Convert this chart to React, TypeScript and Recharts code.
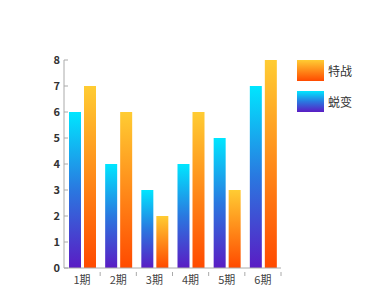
import { BarChart, Bar, XAxis, YAxis } from "recharts";

const periods = ["1期", "2期", "3期", "4期", "5期", "6期"];
const tuibian = [6, 4, 3, 4, 5, 7];
const tezhan = [7, 6, 2, 6, 3, 8];
const yTicks = [0, 1, 2, 3, 4, 5, 6, 7, 8];

const W = 389;
const H = 307;
const margin = { top: 60, right: 108, bottom: 19, left: 34 };
const yAxisWidth = 30;
const band = (W - margin.left - yAxisWidth - margin.right) / periods.length;
const font = "'Noto Sans CJK SC', 'Noto Sans', sans-serif";

const data = periods.map((name, i) => ({ name, tuibian: tuibian[i], tezhan: tezhan[i] }));

const legendItems = [
  { label: "特战", fill: "url(#gOrange)" },
  { label: "蜕变", fill: "url(#gBlue)" },
];

const YTick = ({ x, y, payload }: any) => (
  <g>
    <line x1={x + 4} x2={x + 8} y1={y} y2={y} stroke="#aaa" />
    <text x={x} y={y} dy={4} textAnchor="end" fontSize={11} fill="#333" fontWeight={600} fontFamily={font}>
      {payload.value}
    </text>
  </g>
);

const XTick = ({ x, y, payload }: any) => (
  <g>
    <line x1={x + band / 2} x2={x + band / 2} y1={y - 4} y2={y} stroke="#aaa" />
    <text x={x} y={y} dy={8} textAnchor="middle" fontSize={11} fill="#444" fontFamily={font}>
      {payload.value}
    </text>
  </g>
);

export default function App() {
  return (
    <div style={{ position: "absolute", left: 0, top: 0, width: W, height: H, background: "#fff" }}>
      <BarChart width={W} height={H} data={data} margin={margin} barGap={3}>
        <defs>
          <linearGradient id="gBlue" x1="0" y1="0" x2="0" y2="1">
            <stop offset="0%" stopColor="#00e6ff" />
            <stop offset="50%" stopColor="#2a78e0" />
            <stop offset="100%" stopColor="#5a1cc4" />
          </linearGradient>
          <linearGradient id="gOrange" x1="0" y1="0" x2="0" y2="1">
            <stop offset="0%" stopColor="#ffcc33" />
            <stop offset="100%" stopColor="#ff4a00" />
          </linearGradient>
        </defs>
        <XAxis
          dataKey="name"
          stroke="#aaa"
          tickLine={false}
          tick={<XTick />}
          height={20}
          interval={0}
        />
        <YAxis
          domain={[0, 8]}
          ticks={yTicks}
          width={yAxisWidth}
          stroke="#aaa"
          tickLine={false}
          tickSize={0}
          tickMargin={4}
          tick={<YTick />}
          interval={0}
        />
        <Bar dataKey="tuibian" name="蜕变" fill="url(#gBlue)" barSize={12} isAnimationActive={false} />
        <Bar dataKey="tezhan" name="特战" fill="url(#gOrange)" barSize={12} isAnimationActive={false} />
      </BarChart>
      {legendItems.map((it, i) => (
        <div
          key={it.label}
          style={{ position: "absolute", left: 297, top: 60 + i * 31, display: "flex", alignItems: "center" }}
        >
          <svg width={27} height={21} style={{ display: "block" }}>
            <rect width={27} height={21} fill={it.fill} />
          </svg>
          <span style={{ marginLeft: 4, fontSize: 12, color: "#333", fontFamily: font }}>{it.label}</span>
        </div>
      ))}
    </div>
  );
}
